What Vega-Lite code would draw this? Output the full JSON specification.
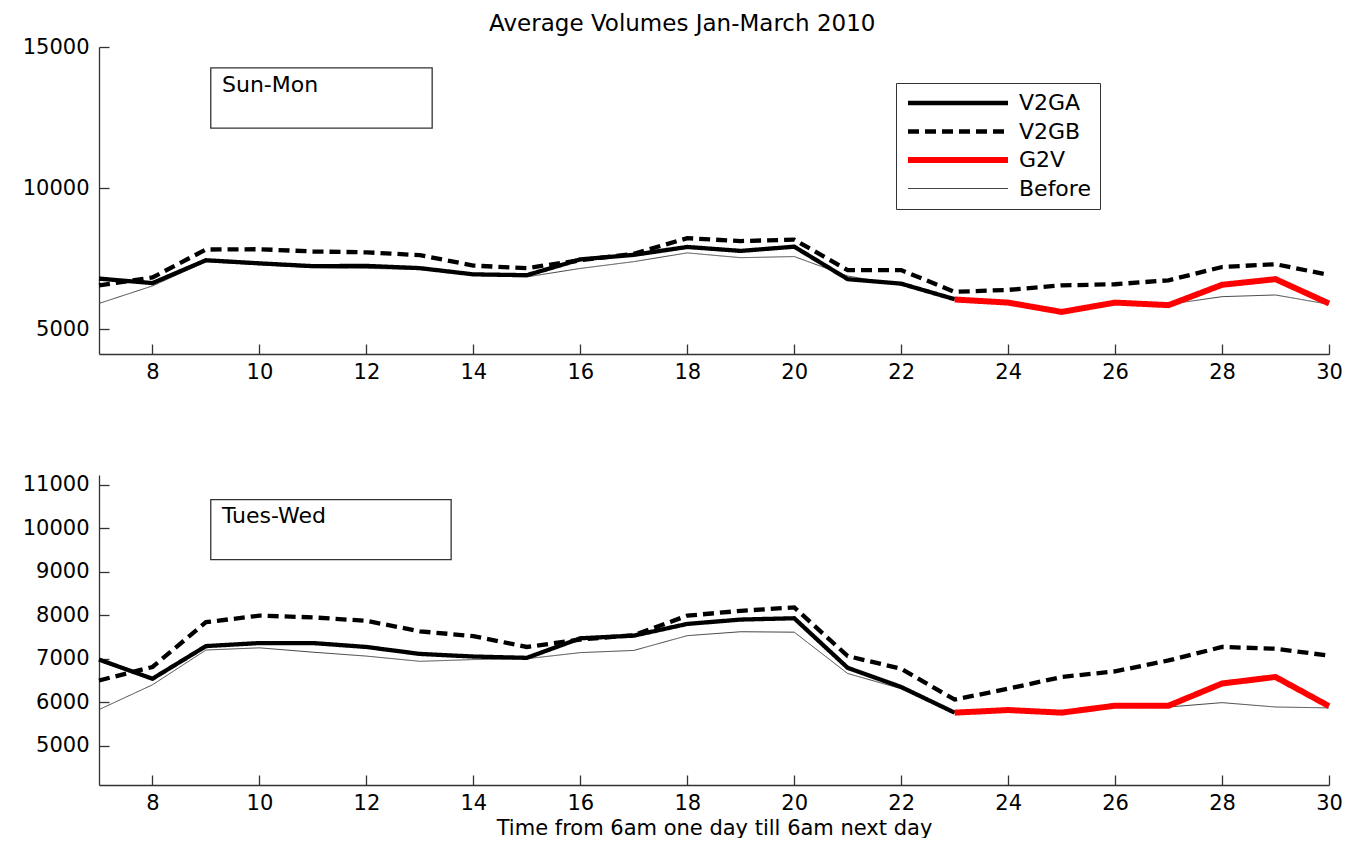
{
  "$schema": "https://vega.github.io/schema/vega-lite/v6.json",
  "background": "white",
  "padding": {"left": 22, "top": 13, "right": 5, "bottom": 0},
  "title": {"text": "Average Volumes Jan-March 2010", "fontSize": 23, "fontWeight": "normal", "font": "DejaVu Sans", "color": "black", "anchor": "middle", "offset": 0},
  "bounds": "flush",
  "spacing": 121,
  "datasets": {
    "top": [
      {"series": "Before", "x": 7, "v": 5920}, {"series": "Before", "x": 8, "v": 6540}, {"series": "Before", "x": 9, "v": 7400}, {"series": "Before", "x": 10, "v": 7290}, {"series": "Before", "x": 11, "v": 7190}, {"series": "Before", "x": 12, "v": 7160}, {"series": "Before", "x": 13, "v": 7130}, {"series": "Before", "x": 14, "v": 6920}, {"series": "Before", "x": 15, "v": 6860}, {"series": "Before", "x": 16, "v": 7160}, {"series": "Before", "x": 17, "v": 7400}, {"series": "Before", "x": 18, "v": 7710}, {"series": "Before", "x": 19, "v": 7540}, {"series": "Before", "x": 20, "v": 7580}, {"series": "Before", "x": 21, "v": 6890}, {"series": "Before", "x": 22, "v": 6570}, {"series": "Before", "x": 23, "v": 6050}, {"series": "Before", "x": 24, "v": 5950}, {"series": "Before", "x": 25, "v": 5620}, {"series": "Before", "x": 26, "v": 5950}, {"series": "Before", "x": 27, "v": 5890}, {"series": "Before", "x": 28, "v": 6160}, {"series": "Before", "x": 29, "v": 6220}, {"series": "Before", "x": 30, "v": 5890},
      {"series": "V2GB", "x": 7, "v": 6560}, {"series": "V2GB", "x": 8, "v": 6840}, {"series": "V2GB", "x": 9, "v": 7830}, {"series": "V2GB", "x": 10, "v": 7840}, {"series": "V2GB", "x": 11, "v": 7760}, {"series": "V2GB", "x": 12, "v": 7730}, {"series": "V2GB", "x": 13, "v": 7630}, {"series": "V2GB", "x": 14, "v": 7260}, {"series": "V2GB", "x": 15, "v": 7170}, {"series": "V2GB", "x": 16, "v": 7450}, {"series": "V2GB", "x": 17, "v": 7680}, {"series": "V2GB", "x": 18, "v": 8230}, {"series": "V2GB", "x": 19, "v": 8130}, {"series": "V2GB", "x": 20, "v": 8180}, {"series": "V2GB", "x": 21, "v": 7100}, {"series": "V2GB", "x": 22, "v": 7100}, {"series": "V2GB", "x": 23, "v": 6330}, {"series": "V2GB", "x": 24, "v": 6400}, {"series": "V2GB", "x": 25, "v": 6560}, {"series": "V2GB", "x": 26, "v": 6600}, {"series": "V2GB", "x": 27, "v": 6740}, {"series": "V2GB", "x": 28, "v": 7210}, {"series": "V2GB", "x": 29, "v": 7310}, {"series": "V2GB", "x": 30, "v": 6930},
      {"series": "V2GA", "x": 7, "v": 6800}, {"series": "V2GA", "x": 8, "v": 6640}, {"series": "V2GA", "x": 9, "v": 7450}, {"series": "V2GA", "x": 10, "v": 7340}, {"series": "V2GA", "x": 11, "v": 7240}, {"series": "V2GA", "x": 12, "v": 7250}, {"series": "V2GA", "x": 13, "v": 7170}, {"series": "V2GA", "x": 14, "v": 6950}, {"series": "V2GA", "x": 15, "v": 6920}, {"series": "V2GA", "x": 16, "v": 7480}, {"series": "V2GA", "x": 17, "v": 7640}, {"series": "V2GA", "x": 18, "v": 7920}, {"series": "V2GA", "x": 19, "v": 7780}, {"series": "V2GA", "x": 20, "v": 7930}, {"series": "V2GA", "x": 21, "v": 6780}, {"series": "V2GA", "x": 22, "v": 6620}, {"series": "V2GA", "x": 23, "v": 6070},
      {"series": "G2V", "x": 23, "v": 6060}, {"series": "G2V", "x": 24, "v": 5950}, {"series": "G2V", "x": 25, "v": 5620}, {"series": "G2V", "x": 26, "v": 5950}, {"series": "G2V", "x": 27, "v": 5860}, {"series": "G2V", "x": 28, "v": 6580}, {"series": "G2V", "x": 29, "v": 6780}, {"series": "G2V", "x": 30, "v": 5920}
    ],
    "bottom": [
      {"series": "Before", "x": 7, "v": 5830}, {"series": "Before", "x": 8, "v": 6400}, {"series": "Before", "x": 9, "v": 7200}, {"series": "Before", "x": 10, "v": 7250}, {"series": "Before", "x": 11, "v": 7150}, {"series": "Before", "x": 12, "v": 7060}, {"series": "Before", "x": 13, "v": 6940}, {"series": "Before", "x": 14, "v": 6980}, {"series": "Before", "x": 15, "v": 7000}, {"series": "Before", "x": 16, "v": 7140}, {"series": "Before", "x": 17, "v": 7190}, {"series": "Before", "x": 18, "v": 7530}, {"series": "Before", "x": 19, "v": 7620}, {"series": "Before", "x": 20, "v": 7610}, {"series": "Before", "x": 21, "v": 6660}, {"series": "Before", "x": 22, "v": 6310}, {"series": "Before", "x": 23, "v": 5760}, {"series": "Before", "x": 24, "v": 5815}, {"series": "Before", "x": 25, "v": 5760}, {"series": "Before", "x": 26, "v": 5920}, {"series": "Before", "x": 27, "v": 5890}, {"series": "Before", "x": 28, "v": 5990}, {"series": "Before", "x": 29, "v": 5890}, {"series": "Before", "x": 30, "v": 5870},
      {"series": "V2GB", "x": 7, "v": 6500}, {"series": "V2GB", "x": 8, "v": 6810}, {"series": "V2GB", "x": 9, "v": 7840}, {"series": "V2GB", "x": 10, "v": 7990}, {"series": "V2GB", "x": 11, "v": 7950}, {"series": "V2GB", "x": 12, "v": 7870}, {"series": "V2GB", "x": 13, "v": 7630}, {"series": "V2GB", "x": 14, "v": 7520}, {"series": "V2GB", "x": 15, "v": 7270}, {"series": "V2GB", "x": 16, "v": 7440}, {"series": "V2GB", "x": 17, "v": 7540}, {"series": "V2GB", "x": 18, "v": 7990}, {"series": "V2GB", "x": 19, "v": 8100}, {"series": "V2GB", "x": 20, "v": 8180}, {"series": "V2GB", "x": 21, "v": 7060}, {"series": "V2GB", "x": 22, "v": 6770}, {"series": "V2GB", "x": 23, "v": 6060}, {"series": "V2GB", "x": 24, "v": 6310}, {"series": "V2GB", "x": 25, "v": 6580}, {"series": "V2GB", "x": 26, "v": 6710}, {"series": "V2GB", "x": 27, "v": 6960}, {"series": "V2GB", "x": 28, "v": 7270}, {"series": "V2GB", "x": 29, "v": 7230}, {"series": "V2GB", "x": 30, "v": 7070},
      {"series": "V2GA", "x": 7, "v": 6980}, {"series": "V2GA", "x": 8, "v": 6540}, {"series": "V2GA", "x": 9, "v": 7290}, {"series": "V2GA", "x": 10, "v": 7360}, {"series": "V2GA", "x": 11, "v": 7360}, {"series": "V2GA", "x": 12, "v": 7270}, {"series": "V2GA", "x": 13, "v": 7110}, {"series": "V2GA", "x": 14, "v": 7050}, {"series": "V2GA", "x": 15, "v": 7020}, {"series": "V2GA", "x": 16, "v": 7470}, {"series": "V2GA", "x": 17, "v": 7530}, {"series": "V2GA", "x": 18, "v": 7800}, {"series": "V2GA", "x": 19, "v": 7900}, {"series": "V2GA", "x": 20, "v": 7930}, {"series": "V2GA", "x": 21, "v": 6790}, {"series": "V2GA", "x": 22, "v": 6350}, {"series": "V2GA", "x": 23, "v": 5760},
      {"series": "G2V", "x": 23, "v": 5760}, {"series": "G2V", "x": 24, "v": 5820}, {"series": "G2V", "x": 25, "v": 5760}, {"series": "G2V", "x": 26, "v": 5920}, {"series": "G2V", "x": 27, "v": 5920}, {"series": "G2V", "x": 28, "v": 6430}, {"series": "G2V", "x": 29, "v": 6580}, {"series": "G2V", "x": 30, "v": 5910}
    ]
  },
  "resolve": {"scale": {"color": "independent", "strokeDash": "independent", "strokeWidth": "independent"}},
  "vconcat": [
    {
      "width": 1230,
      "height": 307,
      "layer": [
        {
          "data": {"values": [{"x": 9.09, "x2": 13.23, "y": 14258, "y2": 12127}]},
          "mark": {"type": "rect", "fill": "white", "stroke": "#333", "strokeWidth": 1.3},
          "encoding": {
            "x": {"field": "x", "type": "quantitative"},
            "x2": {"field": "x2"},
            "y": {"field": "y", "type": "quantitative"},
            "y2": {"field": "y2"}
          }
        },
        {
          "data": {"values": [{"x": 9.3, "y": 13646, "label": "Sun-Mon"}]},
          "mark": {"type": "text", "align": "left", "baseline": "middle", "fontSize": 22, "font": "DejaVu Sans", "color": "black"},
          "encoding": {
            "x": {"field": "x", "type": "quantitative"},
            "y": {"field": "y", "type": "quantitative"},
            "text": {"field": "label"}
          }
        },
        {
          "data": {"name": "top"},
          "mark": {"type": "line", "strokeCap": "butt", "strokeJoin": "miter"},
          "encoding": {
            "x": {"field": "x", "type": "quantitative", "scale": {"domain": [7, 30], "nice": false, "zero": false}, "axis": {"values": [8, 10, 12, 14, 16, 18, 20, 22, 24, 26, 28, 30], "title": null, "labelPadding": 17}},
            "y": {"field": "v", "type": "quantitative", "scale": {"domain": [4130, 15000], "nice": false, "zero": false}, "axis": {"values": [5000, 10000, 15000], "title": null, "format": "d"}},
            "color": {"field": "series", "type": "nominal", "scale": {"domain": ["V2GA", "V2GB", "G2V", "Before"], "range": ["#000000", "#000000", "#ff0000", "#444444"]},
              "legend": {"orient": "none", "legendX": 797, "legendY": 36, "title": null, "symbolType": "stroke", "symbolSize": 10000, "clipHeight": 22, "labelFontSize": 22, "labelFont": "DejaVu Sans", "labelColor": "black", "strokeColor": "#333", "fillColor": "white", "padding": 9, "rowPadding": 6.5, "labelOffset": 8}},
            "strokeDash": {"field": "series", "type": "nominal", "scale": {"domain": ["V2GA", "V2GB", "G2V", "Before"], "range": [[1, 0], [11, 6], [1, 0], [1, 0]]},
              "legend": {"orient": "none", "legendX": 797, "legendY": 36, "title": null, "symbolType": "stroke", "symbolSize": 10000, "clipHeight": 22, "labelFontSize": 22, "labelFont": "DejaVu Sans", "labelColor": "black", "strokeColor": "#333", "fillColor": "white", "padding": 9, "rowPadding": 6.5, "labelOffset": 8}},
            "strokeWidth": {"field": "series", "type": "nominal", "scale": {"type": "ordinal", "domain": ["V2GA", "V2GB", "G2V", "Before"], "range": [4.3, 4.3, 6, 1]},
              "legend": {"orient": "none", "legendX": 797, "legendY": 36, "title": null, "symbolType": "stroke", "symbolSize": 10000, "clipHeight": 22, "labelFontSize": 22, "labelFont": "DejaVu Sans", "labelColor": "black", "strokeColor": "#333", "fillColor": "white", "padding": 9, "rowPadding": 6.5, "labelOffset": 8}}
          }
        }
      ]
    },
    {
      "width": 1230,
      "height": 310,
      "layer": [
        {
          "data": {"values": [{"x": 9.09, "x2": 13.585, "y": 10655, "y2": 9276}]},
          "mark": {"type": "rect", "fill": "white", "stroke": "#333", "strokeWidth": 1.3},
          "encoding": {
            "x": {"field": "x", "type": "quantitative"},
            "x2": {"field": "x2"},
            "y": {"field": "y", "type": "quantitative"},
            "y2": {"field": "y2"}
          }
        },
        {
          "data": {"values": [{"x": 9.3, "y": 10276, "label": "Tues-Wed"}]},
          "mark": {"type": "text", "align": "left", "baseline": "middle", "fontSize": 22, "font": "DejaVu Sans", "color": "black"},
          "encoding": {
            "x": {"field": "x", "type": "quantitative"},
            "y": {"field": "y", "type": "quantitative"},
            "text": {"field": "label"}
          }
        },
        {
          "data": {"name": "bottom"},
          "mark": {"type": "line", "strokeCap": "butt", "strokeJoin": "miter"},
          "encoding": {
            "x": {"field": "x", "type": "quantitative", "scale": {"domain": [7, 30], "nice": false, "zero": false}, "axis": {"values": [8, 10, 12, 14, 16, 18, 20, 22, 24, 26, 28, 30], "title": "Time from 6am one day till 6am next day", "labelPadding": 17, "titlePadding": 4}},
            "y": {"field": "v", "type": "quantitative", "scale": {"domain": [4097, 11223], "nice": false, "zero": false}, "axis": {"values": [5000, 6000, 7000, 8000, 9000, 10000, 11000], "title": null, "format": "d"}},
            "color": {"field": "series", "type": "nominal", "scale": {"domain": ["V2GA", "V2GB", "G2V", "Before"], "range": ["#000000", "#000000", "#ff0000", "#444444"]}, "legend": null},
            "strokeDash": {"field": "series", "type": "nominal", "scale": {"domain": ["V2GA", "V2GB", "G2V", "Before"], "range": [[1, 0], [11, 6], [1, 0], [1, 0]]}, "legend": null},
            "strokeWidth": {"field": "series", "type": "nominal", "scale": {"type": "ordinal", "domain": ["V2GA", "V2GB", "G2V", "Before"], "range": [4.3, 4.3, 6, 1]}, "legend": null}
          }
        }
      ]
    }
  ],
  "config": {
    "view": {"stroke": null},
    "font": "DejaVu Sans",
    "axis": {"grid": false, "domainColor": "#333", "tickColor": "#333", "domainWidth": 1.3, "tickWidth": 1.3, "tickSize": -10, "labelPadding": 20, "labelFontSize": 21, "labelFont": "DejaVu Sans", "labelColor": "black", "labelFlush": false, "labelOverlap": false, "titleFontSize": 21, "titleFont": "DejaVu Sans", "titleFontWeight": "normal", "titleColor": "black"}
  }
}
